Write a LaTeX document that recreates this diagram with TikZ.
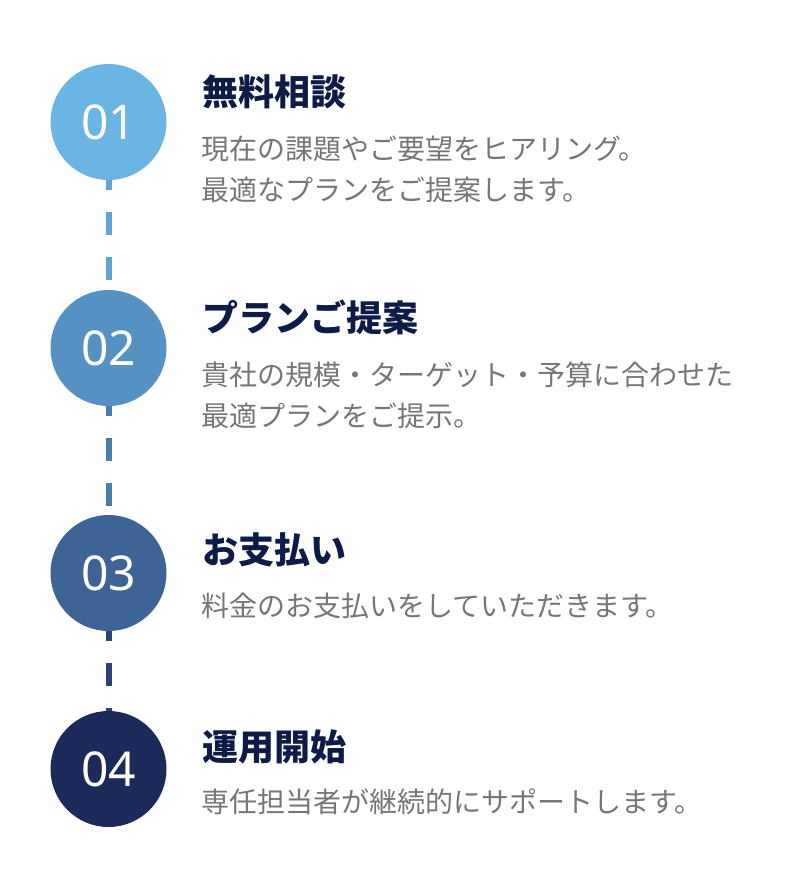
\documentclass[tikz,border=0pt]{standalone}
\usepackage{fontspec}
\setmainfont{Noto Sans CJK JP}
\newfontfamily\numfont{Noto Sans}
\usetikzlibrary{backgrounds}
\definecolor{cA}{HTML}{6BB5E5}
\definecolor{cB}{HTML}{5592C3}
\definecolor{cC}{HTML}{3D6494}
\definecolor{cD}{HTML}{1C2A59}
\definecolor{titlec}{HTML}{0D1B46}
\definecolor{bodyc}{HTML}{767676}
\begin{document}
\begin{tikzpicture}[x=1pt,y=-1pt,
  stepcircle/.style={circle, minimum size=116pt, inner sep=0pt, fill=#1, text=white,
    font=\numfont\fontsize{48}{48}\selectfont},
  ttl/.style={anchor=base west, inner sep=0pt, text=titlec,
    font=\bfseries\fontsize{36}{36}\selectfont},
  bodytxt/.style={anchor=base west, inner sep=0pt, text=bodyc,
    font=\fontsize{28}{28}\selectfont},
  link/.style={line width=6pt, dash pattern=on 22.5pt off 22.5pt, draw=#1}]
\useasboundingbox (0,0) rectangle (800,876);

\node[stepcircle=cA] (s1) at (108.5,122) {01};
\node[stepcircle=cB] (s2) at (108.5,348) {02};
\node[stepcircle=cC] (s3) at (108.5,573) {03};
\node[stepcircle=cD] (s4) at (108.5,769) {04};

\node[ttl] (t1) at (202,105) {無料相談};
\node[bodytxt] (b1a) at (201,159) {現在の課題やご要望をヒアリング。};
\node[bodytxt] (b1b) at (201,200.5) {最適なプランをご提案します。};

\node[ttl] (t2) at (202,331) {プランご提案};
\node[bodytxt] (b2a) at (201,385) {貴社の規模・ターゲット・予算に合わせた};
\node[bodytxt] (b2b) at (201,426.5) {最適プランをご提示。};

\node[ttl] (t3) at (202,563.5) {お支払い};
\node[bodytxt] (b3a) at (201,616) {料金のお支払いをしていただきます。};

\node[ttl] (t4) at (202,760.5) {運用開始};
\node[bodytxt] (b4a) at (201,812.5) {専任担当者が継続的にサポートします。};

\begin{scope}[on background layer]
\draw[link={cA!55!cB}] (s1.center) -- (s2.center);
\draw[link={cB!50!cC}] (s2.center) -- (s3.center);
\draw[link={cC!45!cD}] (s3.center) -- (s4.center);
\end{scope}
\end{tikzpicture}
\end{document}
